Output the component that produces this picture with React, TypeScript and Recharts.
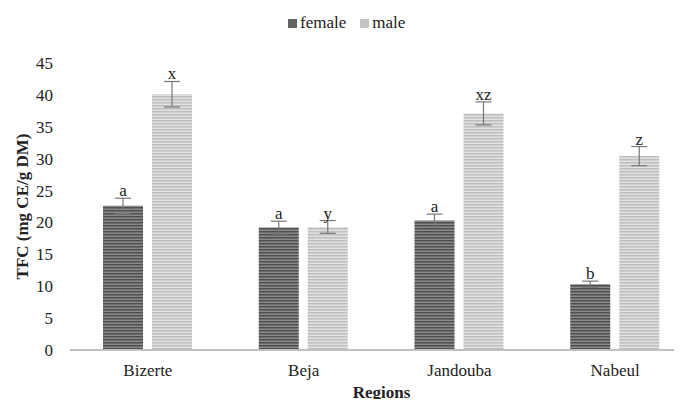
import { BarChart, Bar, XAxis, YAxis, ErrorBar, LabelList, Label } from 'recharts';

const regions = ['Bizerte', 'Beja', 'Jandouba', 'Nabeul'];
const female = [22.6, 19.2, 20.3, 10.3];
const femaleErr = [1.2, 1.0, 1.0, 0.5];
const femaleLetters = ['a', 'a', 'a', 'b'];
const male = [40.1, 19.3, 37.1, 30.4];
const maleErr = [2.0, 1.0, 1.8, 1.5];
const maleLetters = ['x', 'y', 'xz', 'z'];
const yTicks = [0, 5, 10, 15, 20, 25, 30, 35, 40, 45];

const FONT = 'Liberation Serif, Times New Roman, serif';
const FS = 17;

const data = regions.map((region, i) => ({
  region,
  female: female[i],
  femaleErr: femaleErr[i],
  femaleLetter: femaleLetters[i],
  male: male[i],
  maleErr: maleErr[i],
  maleLetter: maleLetters[i],
}));

// letter sits just above the error bar cap (px per unit taken from the bar itself)
const letterLabel = (vals: number[], errs: number[]) => (props: any) => {
  const { x, y, width, height, value, index } = props;
  const pxPer = vals[index] ? height / vals[index] : 0;
  const top = y - errs[index] * pxPer;
  return (
    <text x={x + width / 2} y={top - 2} textAnchor="middle" fontFamily={FONT} fontSize={FS} fill="#222">
      {value}
    </text>
  );
};

const LegendBox = () => (
  <div
    style={{
      position: 'absolute',
      top: 13,
      left: 288,
      display: 'flex',
      gap: 14,
      fontFamily: FONT,
      fontSize: FS,
      lineHeight: '20px',
      color: '#222',
    }}
  >
    {[
      { name: 'female', color: '#626262' },
      { name: 'male', color: '#c4c4c4' },
    ].map((s) => (
      <div key={s.name} style={{ display: 'flex', alignItems: 'center', gap: 3 }}>
        <div style={{ width: 9, height: 9, background: s.color }} />
        <span>{s.name}</span>
      </div>
    ))}
  </div>
);

export default function App() {
  return (
    <div
      style={{
        position: 'relative',
        margin: -8,
        width: 682,
        height: 407,
        overflow: 'hidden',
        background: '#fff',
        fontFamily: FONT,
      }}
    >
      <LegendBox />
      <BarChart
        width={700}
        height={407}
        data={data}
        margin={{ top: 63, right: 7, bottom: 0, left: 0 }}
        barSize={40}
        barGap={9}
        style={{ fontFamily: FONT }}
      >
        <defs>
          <pattern id="femaleStripes" width="6" height="3" patternUnits="userSpaceOnUse">
            <rect width="6" height="3" fill="#8a8a8a" />
            <rect width="6" height="1.5" fill="#4e4e4e" />
          </pattern>
          <pattern id="maleStripes" width="6" height="3" patternUnits="userSpaceOnUse">
            <rect width="6" height="3" fill="#e2e2e2" />
            <rect width="6" height="1.5" fill="#bdbdbd" />
          </pattern>
        </defs>
        <XAxis
          dataKey="region"
          height={57}
          tickLine={false}
          tickSize={0}
          tickMargin={14}
          axisLine={{ stroke: '#c0c0c0', strokeWidth: 2 }}
          tick={{ fontFamily: FONT, fontSize: FS, fill: '#222' }}
        >
          <Label
            content={(props: any) => {
              const vb = props.viewBox;
              return (
                <text
                  x={vb.x + vb.width / 2}
                  y={vb.y + 48}
                  textAnchor="middle"
                  fontFamily={FONT}
                  fontSize={FS}
                  fontWeight="bold"
                  fill="#222"
                >
                  Regions
                </text>
              );
            }}
          />
        </XAxis>
        <YAxis
          width={70}
          domain={[0, 45]}
          ticks={yTicks}
          interval={0}
          axisLine={false}
          tickLine={false}
          tickSize={0}
          tickMargin={17}
          tick={{ fontFamily: FONT, fontSize: FS, fill: '#222' }}
        >
          <Label
            content={(props: any) => {
              const vb = props.viewBox;
              const cx = vb.x + 22;
              const cy = vb.y + vb.height / 2;
              return (
                <text
                  x={cx}
                  y={cy}
                  transform={`rotate(-90 ${cx} ${cy})`}
                  textAnchor="middle"
                  dominantBaseline="central"
                  fontFamily={FONT}
                  fontSize={FS}
                  fontWeight="bold"
                  fill="#222"
                >
                  TFC (mg CE/g DM)
                </text>
              );
            }}
          />
        </YAxis>
        <Bar dataKey="female" fill="url(#femaleStripes)" isAnimationActive={false}>
          <ErrorBar dataKey="femaleErr" width={8} stroke="#777" strokeWidth={1.2} />
          <LabelList dataKey="femaleLetter" content={letterLabel(female, femaleErr)} />
        </Bar>
        <Bar dataKey="male" fill="url(#maleStripes)" isAnimationActive={false}>
          <ErrorBar dataKey="maleErr" width={8} stroke="#777" strokeWidth={1.2} />
          <LabelList dataKey="maleLetter" content={letterLabel(male, maleErr)} />
        </Bar>
      </BarChart>
    </div>
  );
}
